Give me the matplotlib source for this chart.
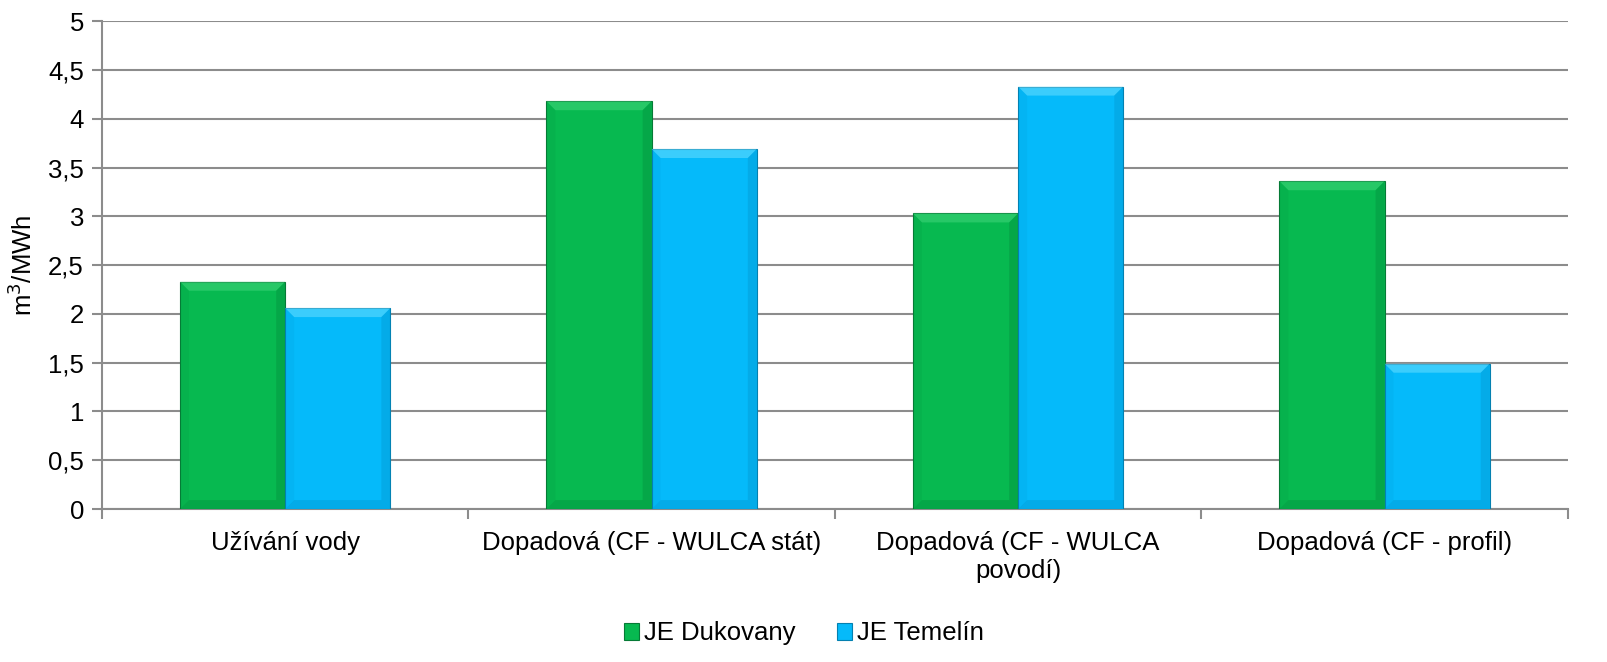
import matplotlib.pyplot as plt
from matplotlib.patches import Polygon
import numpy as np

plt.rcParams['font.family'] = ['Liberation Sans', 'DejaVu Sans']

categories = ["Užívání vody", "Dopadová (CF - WULCA stát)",
              "Dopadová (CF - WULCA\npovodí)", "Dopadová (CF - profil)"]
dukovany = [2.33, 4.18, 3.03, 3.36]
temelin = [2.06, 3.69, 4.33, 1.49]
yticks = [0, 0.5, 1, 1.5, 2, 2.5, 3, 3.5, 4, 4.5, 5]
ytick_labels = ["0", "0,5", "1", "1,5", "2", "2,5", "3", "3,5", "4", "4,5", "5"]

FS = 18.5

fig = plt.figure(figsize=(16.08, 6.62), dpi=100)
ax = fig.add_axes([0.0634, 0.231, 0.9116, 0.737])

x = np.arange(len(categories))
w = 0.287
b1 = ax.bar(x - w / 2, dukovany, w, color="#07B950", edgecolor="#067a36", linewidth=0.8,
            label="JE Dukovany", zorder=3)
b2 = ax.bar(x + w / 2, temelin, w, color="#05BAFA", edgecolor="#0480b0", linewidth=0.8,
            label="JE Temelín", zorder=3)

ax.set_xlim(-0.5, len(categories) - 0.5)
ax.set_ylim(0, 5)

# soft bevel on bars
fig.canvas.draw()
inv = ax.transData.inverted()
p0 = inv.transform((0, 0))
p1 = inv.transform((9, 9))
dx, dy = p1 - p0
for bars, light, dark in [(b1, "#4fdc85", "#04863a"), (b2, "#7fe6ff", "#0390c8")]:
    for r in bars:
        x0, x1 = r.get_x(), r.get_x() + r.get_width()
        h = r.get_height()
        top = [(x0, h), (x1, h), (x1 - dx, h - dy), (x0 + dx, h - dy)]
        bot = [(x0, 0), (x1, 0), (x1 - dx, dy), (x0 + dx, dy)]
        rgt = [(x1, 0), (x1, h), (x1 - dx, h - dy), (x1 - dx, dy)]
        lft = [(x0, 0), (x0, h), (x0 + dx, h - dy), (x0 + dx, dy)]
        ax.add_patch(Polygon(top, closed=True, facecolor=light, edgecolor="none", zorder=4, alpha=0.45))
        ax.add_patch(Polygon(bot, closed=True, facecolor=dark, edgecolor="none", zorder=4, alpha=0.35))
        ax.add_patch(Polygon(rgt, closed=True, facecolor=dark, edgecolor="none", zorder=4, alpha=0.35))
        ax.add_patch(Polygon(lft, closed=True, facecolor=dark, edgecolor="none", zorder=4, alpha=0.12))

ax.set_yticks(yticks)
ax.set_yticklabels(ytick_labels)
ax.yaxis.grid(True, color="#8c8c8c", linewidth=1.5)
ax.set_axisbelow(True)

ax.set_xticks(x)
ax.set_xticklabels(categories)
ax.tick_params(axis="x", length=0, pad=16, labelsize=FS)
ax.set_xticks(np.arange(-0.5, len(categories)), minor=True)
ax.tick_params(axis="x", which="minor", length=7, color="#8c8c8c", width=1.5)
ax.tick_params(axis="y", length=7, color="#8c8c8c", width=1.5, labelsize=FS, pad=6)

for s in ["top", "right"]:
    ax.spines[s].set_visible(False)
for s in ["left", "bottom"]:
    ax.spines[s].set_color("#8c8c8c")
    ax.spines[s].set_linewidth(1.5)

ax.set_ylabel("m$^3$/MWh", fontsize=FS, labelpad=8)

fig.legend(handles=[b1, b2], loc="lower center", bbox_to_anchor=(0.5, -0.01),
           ncol=2, frameon=False, fontsize=FS, handlelength=0.6, handleheight=0.6,
           handletextpad=0.2, columnspacing=1.6)

fig.savefig("out.png", dpi=100)
